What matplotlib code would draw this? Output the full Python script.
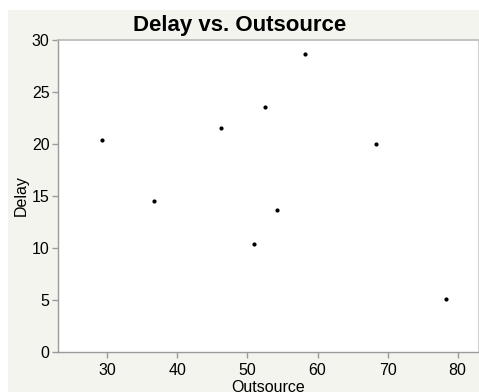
import matplotlib
matplotlib.use("Agg")
import matplotlib.pyplot as plt
from matplotlib.patches import Rectangle

plt.rcParams.update({
    "font.family": ["Liberation Sans", "DejaVu Sans"],
    "font.size": 11.5,
})

# outsource share vs. delivery delay
outsource = [29.3, 36.6, 46.2, 50.9, 52.5, 54.2, 58.2, 68.3, 78.4]
delay = [20.4, 14.5, 21.5, 10.4, 23.5, 13.7, 28.6, 20.0, 5.1]

PANEL = "#f4f4ef"
AXIS = "#9a9a9a"

fig = plt.figure(figsize=(4.79, 3.92), dpi=100, facecolor="white")
fig.add_artist(Rectangle((8 / 479, 0), 1, 1 - 10 / 392, transform=fig.transFigure,
                         facecolor=PANEL, edgecolor="none", zorder=-10))

ax = fig.add_axes([58 / 479, 1 - 352.3 / 392, 420 / 479, 312.6 / 392])
ax.set_facecolor("white")
ax.scatter(outsource, delay, s=9, color="black", linewidths=0, zorder=3)

ax.set_xlim(22.97, 82.9)
ax.set_ylim(0, 30)
ax.set_xticks([30, 40, 50, 60, 70, 80])
ax.set_yticks([0, 5, 10, 15, 20, 25, 30])

for side in ("left", "bottom"):
    ax.spines[side].set_color(AXIS)
    ax.spines[side].set_linewidth(1.0)
ax.spines["top"].set_color("#b8b8b8")
ax.spines["top"].set_linewidth(1.2)
ax.spines["right"].set_color("#d0d0d0")
ax.spines["right"].set_linewidth(0.8)
ax.tick_params(axis="both", colors=AXIS, labelcolor="black", length=4, width=1,
               labelsize=11.5, pad=2)
ax.tick_params(axis="x", pad=4)

ax.set_xlabel("Outsource", fontsize=11.5, labelpad=1)
ax.set_ylabel("Delay", fontsize=11.5, labelpad=2)
fig.text(0.5, 1 - 31 / 392, "Delay vs. Outsource", fontsize=16, fontweight="bold",
         ha="center", va="baseline")

fig.savefig("out.png", dpi=100, facecolor=fig.get_facecolor())
